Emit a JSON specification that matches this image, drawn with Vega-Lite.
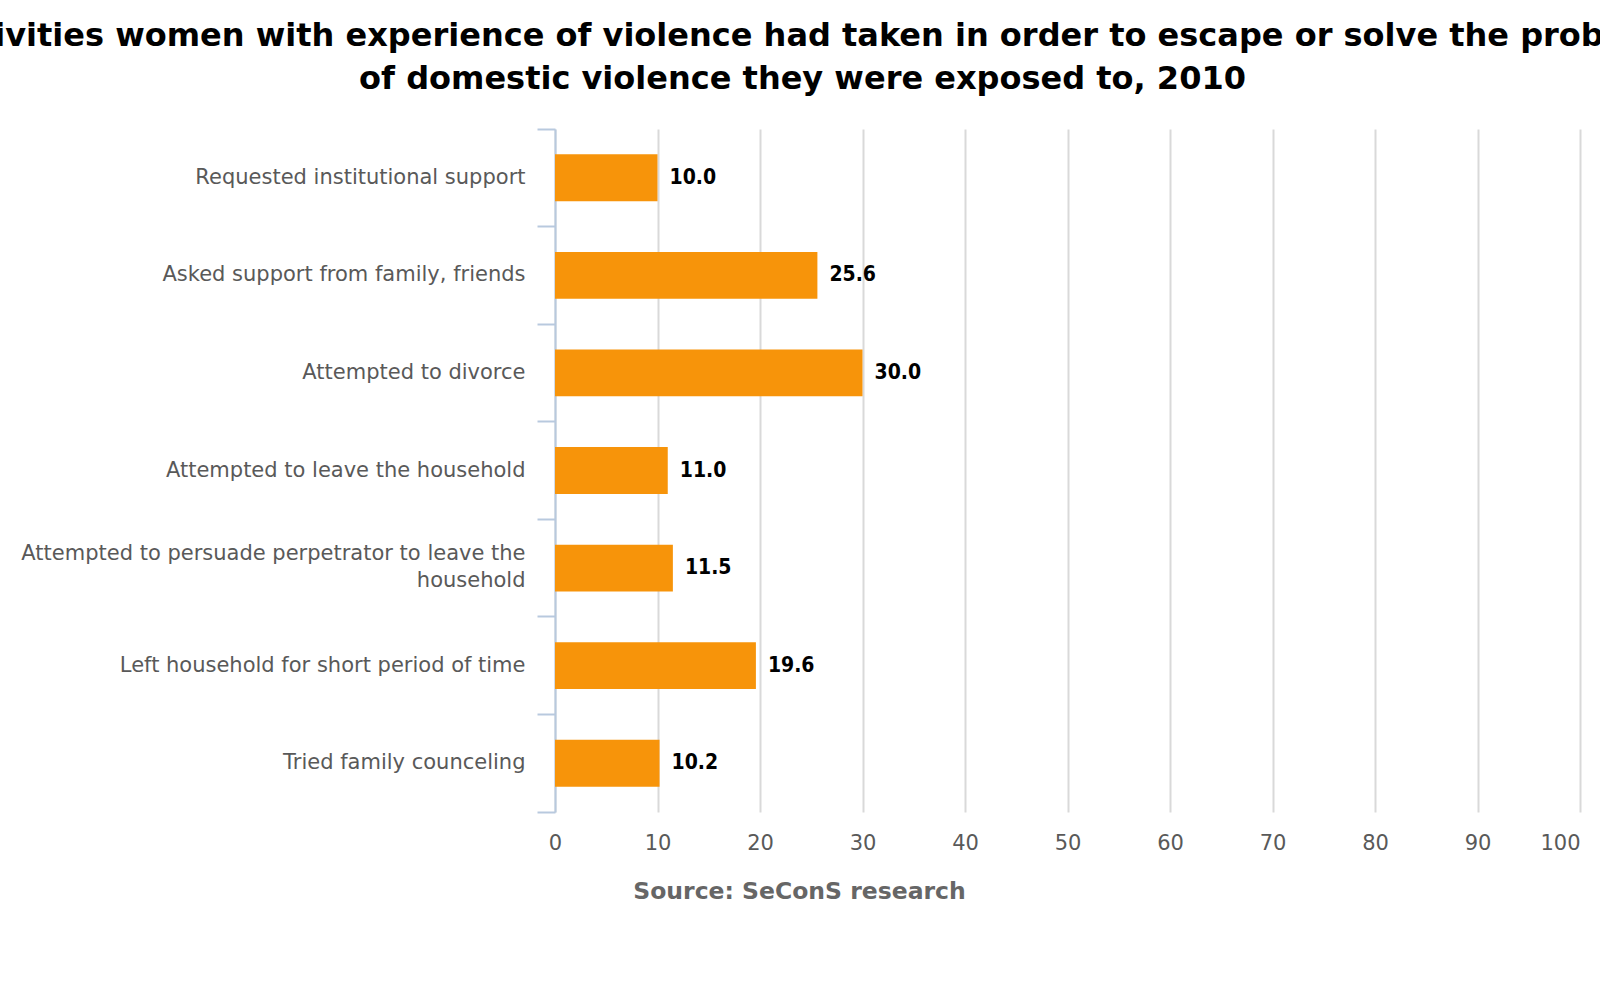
{
  "$schema": "https://vega.github.io/schema/vega-lite/v6.json",
  "autosize": {"type": "none"},
  "width": 1025,
  "height": 683,
  "padding": {"left": 555, "top": 129, "right": 20, "bottom": 188},
  "title": {
    "text": [
      "Activities women with experience of violence had taken in order to escape or solve the problem",
      "of domestic violence they were exposed to, 2010"
    ],
    "anchor": "middle",
    "dx": -265,
    "offset": -3,
    "baseline": "alphabetic",
    "font": "DejaVu Sans",
    "fontSize": 32,
    "fontWeight": "bold",
    "color": "#000000",
    "lineHeight": 43
  },
  "data": {
    "values": [
      {"activity": "Requested institutional support", "pct": 10.0},
      {"activity": "Asked support from family, friends", "pct": 25.6},
      {"activity": "Attempted to divorce", "pct": 30.0},
      {"activity": "Attempted to leave the household", "pct": 11.0},
      {"activity": "Attempted to persuade perpetrator to leave the household", "pct": 11.5},
      {"activity": "Left household for short period of time", "pct": 19.6},
      {"activity": "Tried family counceling", "pct": 10.2}
    ]
  },
  "encoding": {
    "y": {
      "field": "activity",
      "type": "nominal",
      "sort": null,
      "scale": {"paddingInner": 0, "paddingOuter": 0},
      "axis": {
        "title": null,
        "domainColor": "#b8c9de",
        "domainWidth": 2,
        "tickColor": "#b8c9de",
        "tickWidth": 2,
        "tickSize": 18,
        "bandPosition": 1,
        "tickExtra": true,
        "labelPadding": 12,
        "labelColor": "#595959",
        "labelFont": "DejaVu Sans",
        "labelFontSize": 21,
        "labelLineHeight": 27,
        "labelLimit": 600,
        "labelOffset": {"condition": {"test": "datum.value == 'Attempted to persuade perpetrator to leave the household'", "value": -14}, "value": 0},
        "labelExpr": "datum.label == 'Attempted to persuade perpetrator to leave the household' ? ['Attempted to persuade perpetrator to leave the', 'household'] : datum.label"
      }
    },
    "x": {
      "field": "pct",
      "type": "quantitative",
      "scale": {"domain": [0, 100], "nice": false},
      "axis": {
        "values": [0, 10, 20, 30, 40, 50, 60, 70, 80, 90, 100],
        "domain": false,
        "ticks": false,
        "grid": true,
        "gridColor": "#d9d9d9",
        "gridWidth": 2,
        "labelPadding": 20,
        "labelColor": "#595959",
        "labelFont": "DejaVu Sans",
        "labelFontSize": 21,
        "labelAlign": {"condition": {"test": "datum.value == 100", "value": "right"}, "value": "center"},
        "title": "Source: SeConS research",
        "titleX": 244,
        "titleY": 79,
        "titleBaseline": "middle",
        "titleAnchor": "middle",
        "titleAlign": "center",
        "titleFont": "DejaVu Sans",
        "titleFontSize": 23.5,
        "titleFontWeight": "bold",
        "titleColor": "#666666"
      }
    }
  },
  "layer": [
    {
      "mark": {"type": "bar", "color": "#f7940a", "height": {"band": 0.48}}
    },
    {
      "mark": {
        "type": "text",
        "align": "left",
        "baseline": "middle",
        "dx": 12,
        "font": "DejaVu Sans Condensed",
        "fontSize": 21,
        "fontWeight": "bold",
        "color": "#000000"
      },
      "encoding": {
        "text": {"field": "pct", "type": "quantitative", "format": ".1f"}
      }
    }
  ],
  "config": {
    "view": {"stroke": null}
  }
}
